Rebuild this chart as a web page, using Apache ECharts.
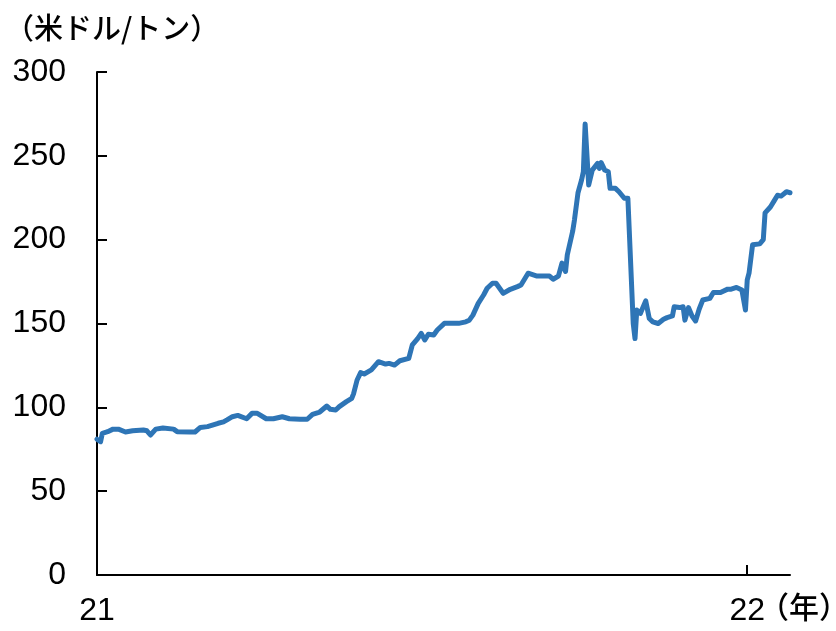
<!DOCTYPE html>
<html>
<head>
<meta charset="utf-8">
<script src="https://cdn.jsdelivr.net/npm/echarts@6/dist/echarts.min.js"></script>
<style>
  html, body { margin: 0; padding: 0; background: #fff; }
  #chart { width: 836px; height: 631px; }
</style>
</head>
<body>
<div id="chart"></div>
<script>
// Price series (US$ per tonne), Jan 2021 – Jan 2022
const dates = [
  '2021-01-01','2021-01-03','2021-01-04','2021-01-07','2021-01-10','2021-01-13','2021-01-17','2021-01-21',
  '2021-01-27','2021-01-29','2021-01-31','2021-02-03','2021-02-07','2021-02-13','2021-02-15','2021-02-22',
  '2021-02-25','2021-02-28','2021-03-04','2021-03-10','2021-03-13','2021-03-15','2021-03-18','2021-03-21',
  '2021-03-26','2021-03-29','2021-04-01','2021-04-06','2021-04-10','2021-04-15','2021-04-19','2021-04-25',
  '2021-04-29','2021-05-02','2021-05-06','2021-05-10','2021-05-12','2021-05-15','2021-05-17','2021-05-21',
  '2021-05-24','2021-05-25','2021-05-27','2021-05-29','2021-05-31','2021-06-04','2021-06-08','2021-06-12',
  '2021-06-14','2021-06-17','2021-06-20','2021-06-25','2021-06-27','2021-06-30','2021-07-02','2021-07-04',
  '2021-07-06','2021-07-09','2021-07-11','2021-07-15','2021-07-23','2021-07-27','2021-07-29','2021-07-31',
  '2021-08-03','2021-08-06','2021-08-08','2021-08-11','2021-08-13','2021-08-17','2021-08-21','2021-08-25',
  '2021-08-27','2021-08-31','2021-09-05','2021-09-12','2021-09-14','2021-09-17','2021-09-19','2021-09-21',
  '2021-09-22','2021-09-25','2021-09-26','2021-09-28','2021-09-30','2021-10-01','2021-10-02','2021-10-04',
  '2021-10-06','2021-10-09','2021-10-10','2021-10-11','2021-10-13','2021-10-15','2021-10-16','2021-10-19',
  '2021-10-21','2021-10-24','2021-10-26','2021-10-29','2021-10-30','2021-10-31','2021-11-02','2021-11-05',
  '2021-11-07','2021-11-09','2021-11-12','2021-11-15','2021-11-17','2021-11-20','2021-11-21','2021-11-24',
  '2021-11-26','2021-11-27','2021-11-29','2021-12-01','2021-12-03','2021-12-05','2021-12-07','2021-12-11',
  '2021-12-13','2021-12-17','2021-12-21','2021-12-23','2021-12-26','2021-12-29','2021-12-31','2022-01-01',
  '2022-01-02','2022-01-04','2022-01-08','2022-01-10','2022-01-11','2022-01-14','2022-01-16','2022-01-18',
  '2022-01-20','2022-01-23','2022-01-25'
];
const prices = [
  81, 79.5, 84.5, 85.5, 87, 87, 85.3, 86,
  86.5, 86, 83.5, 87, 87.7, 87, 85.5, 85.3,
  85.3, 88, 88.5, 90.5, 91.3, 92.5, 94.4, 95.2,
  93.2, 96.4, 96.4, 93.2, 93.2, 94.4, 93.2, 92.9,
  92.9, 95.8, 97.2, 100.8, 98.8, 98.4, 100.4, 103.4,
  105.4, 108, 116.3, 120.7, 119.9, 122.3, 127.2, 125.8,
  126.2, 125.2, 127.8, 129.2, 137.2, 141, 144.1, 140.2,
  143.6, 143.1, 146.1, 150.1, 150.1, 151, 152, 155,
  162, 167, 171, 174, 174, 168, 170.4, 172,
  173, 180, 178.3, 178.3, 176.4, 178.3, 186, 181,
  191, 205, 211.7, 228, 235.6, 240.5, 269, 232.6,
  241.5, 245.5, 242.5, 246, 241.5, 240.5, 230.6, 230.6,
  228.6, 224.7, 224.7, 150, 141, 158, 156, 163.5,
  153, 151, 150, 152.5, 153.5, 154.5, 160, 159.5,
  160, 152, 159.5, 154.5, 151.5, 158.5, 164, 165,
  168.5, 168.5, 170.5, 170.5, 171.5, 170, 158, 176,
  180, 197, 197.5, 200, 216, 219.5, 223, 226.5,
  226, 228.6, 228
];
const yearTicks = ['2021-01-01', '2022-01-01'];
const axisEnd = '2022-01-25';
const yTicks = [0, 50, 100, 150, 200, 250, 300];

const unitLabel = '（米ドル/トン）';
const yearLabel = '（年）';

// dates -> local timestamps, plotted on a numeric axis
const toTime = s => { const p = s.split('-').map(Number); return new Date(p[0], p[1] - 1, p[2]).getTime(); };
const yearTickTimes = yearTicks.map(toTime);

const chart = echarts.init(document.getElementById('chart'), null, { renderer: 'canvas' });
const numFont = '"Liberation Sans", Arial, sans-serif';
const jpFont = '"Noto Sans CJK JP", sans-serif';

chart.setOption({
  animation: false,
  backgroundColor: '#ffffff',
  grid: { left: 97, right: 46, top: 72, bottom: 56, containLabel: false },
  title: {
    text: unitLabel,
    left: 0, top: 8,
    textStyle: { fontFamily: jpFont, fontSize: 29, fontWeight: 500, color: '#000' }
  },
  xAxis: {
    type: 'value',
    min: yearTickTimes[0],
    max: toTime(axisEnd),
    axisLine: { show: true, lineStyle: { color: '#000', width: 2 } },
    axisTick: { show: true, inside: true, length: 10, lineStyle: { color: '#000', width: 2 }, customValues: yearTickTimes },
    axisLabel: {
      customValues: yearTickTimes,
      formatter: v => String(new Date(v).getFullYear()).slice(2),
      fontFamily: numFont, fontSize: 32, color: '#000', margin: 20
    },
    splitLine: { show: false }
  },
  yAxis: {
    type: 'value',
    min: yTicks[0], max: yTicks[yTicks.length - 1], interval: 50,
    axisLine: { show: true, lineStyle: { color: '#000', width: 2 } },
    axisTick: { show: true, inside: true, length: 10, lineStyle: { color: '#000', width: 2 } },
    axisLabel: { fontFamily: numFont, fontSize: 32, color: '#000', margin: 31 },
    splitLine: { show: false }
  },
  graphic: [{
    type: 'text',
    left: 759, top: 592,
    style: { text: yearLabel, font: '500 30px ' + jpFont, fill: '#000' }
  }],
  series: [{
    type: 'line',
    data: dates.map((d, i) => [toTime(d), prices[i]]),
    showSymbol: false,
    lineStyle: { color: '#2E75B6', width: 5, join: 'round', cap: 'round' },
    itemStyle: { color: '#2E75B6' }
  }]
});
</script>
</body>
</html>
